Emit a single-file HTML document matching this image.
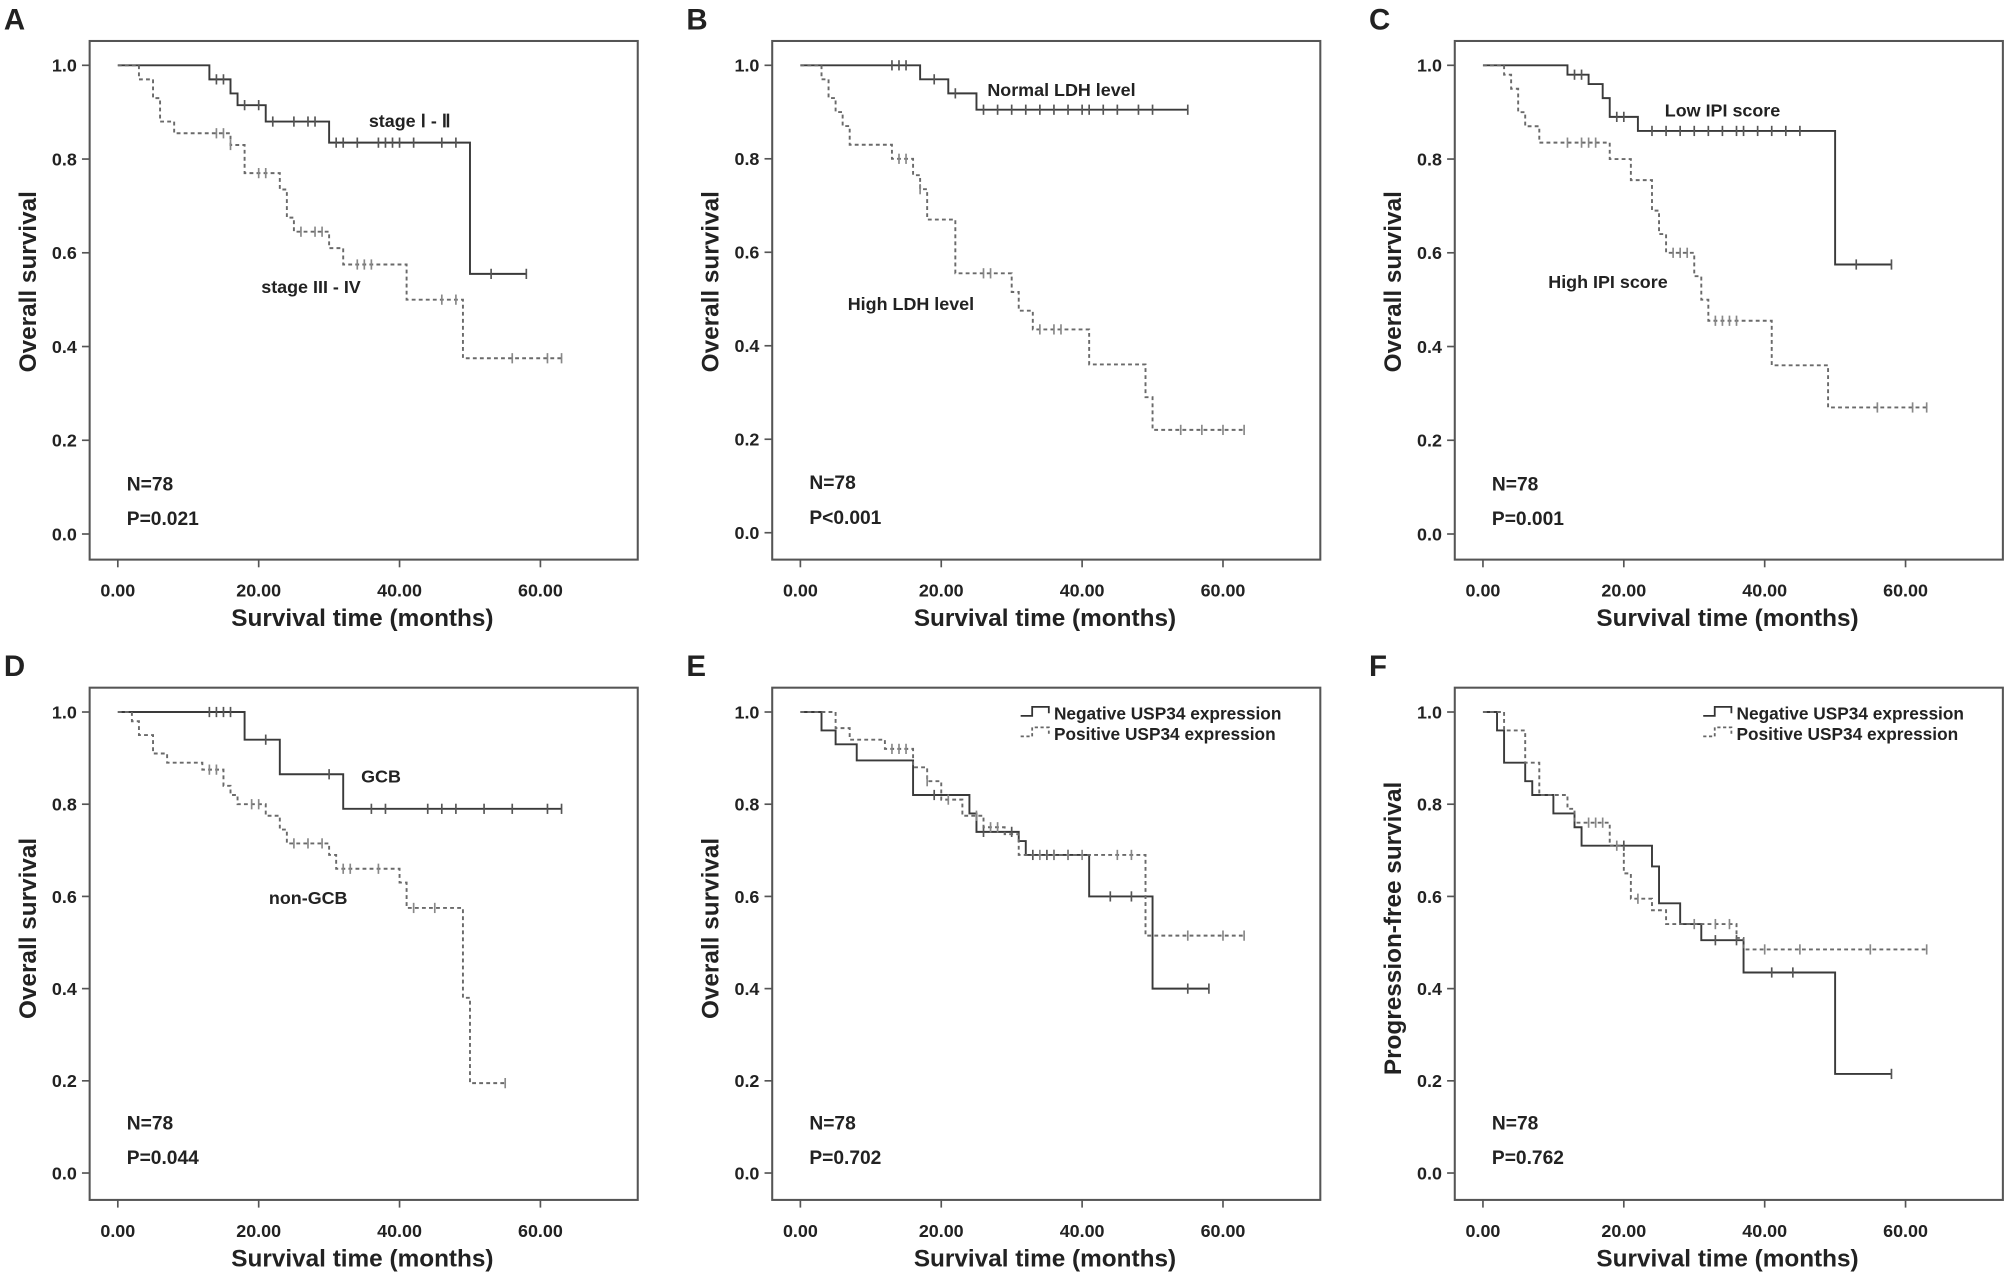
<!DOCTYPE html>
<html><head><meta charset="utf-8"><style>
html,body{margin:0;padding:0;background:#fff;}
svg{display:block;}
text{font-family:"Liberation Sans",Arial,sans-serif;font-weight:bold;fill:#222;}
</style></head><body>
<svg id="fig" width="2008" height="1287" viewBox="0 0 1568 1005" preserveAspectRatio="none" xmlns="http://www.w3.org/2000/svg"></svg>
<script>
// ---- data ----
const xTicks = [0, 20, 40, 60];
const xTickLabels = ["0.00", "20.00", "40.00", "60.00"];
const yTicks = [0, 0.2, 0.4, 0.6, 0.8, 1.0];
const yTickLabels = ["0.0", "0.2", "0.4", "0.6", "0.8", "1.0"];

const aSolidT = [0,13,16,17,21,30,50];
const aSolidS = [1,0.97,0.94,0.915,0.88,0.835,0.555];
const aSolidC = [14,15,18,20,22,25,27,28,31,32,34,37,38,39,40,42,46,48,53,58];
const aSolidEnd = 58;
const aDashT = [0,3,5,6,8,16,18,23,24,25,30,32,41,49];
const aDashS = [1,0.97,0.93,0.88,0.855,0.83,0.77,0.735,0.675,0.645,0.61,0.575,0.5,0.375];
const aDashC = [14,15,16,20,21,26,28,29,34,35,36,46,48,56,61,63];
const aDashEnd = 63;

const bSolidT = [0,17,21,25];
const bSolidS = [1,0.97,0.94,0.905];
const bSolidC = [13,14,15,19,22,26,28,30,32,34,36,38,40,41,43,45,48,50,55];
const bSolidEnd = 55;
const bDashT = [0,3,4,5,6,7,13,16,17,18,22,30,31,33,41,49,50];
const bDashS = [1,0.97,0.93,0.90,0.87,0.83,0.80,0.765,0.735,0.67,0.555,0.515,0.475,0.435,0.36,0.29,0.22];
const bDashC = [14,15,17,26,27,34,36,37,54,57,60,63];
const bDashEnd = 63;

const cSolidT = [0,12,15,17,18,22,50];
const cSolidS = [1,0.98,0.96,0.93,0.89,0.86,0.575];
const cSolidC = [13,14,19,20,24,26,28,30,32,34,36,37,39,41,43,45,53,58];
const cSolidEnd = 58;
const cDashT = [0,3,4,5,6,8,18,21,24,25,26,30,31,32,41,49];
const cDashS = [1,0.98,0.95,0.90,0.87,0.835,0.80,0.755,0.69,0.64,0.60,0.55,0.50,0.455,0.36,0.27];
const cDashC = [12,14,15,16,27,28,29,33,34,35,36,56,61,63];
const cDashEnd = 63;

const dSolidT = [0,18,23,32];
const dSolidS = [1,0.94,0.865,0.79];
const dSolidC = [13,14,15,16,21,30,36,38,44,46,48,52,56,61,63];
const dSolidEnd = 63;
const dDashT = [0,2,3,5,7,12,15,16,17,21,23,24,30,31,40,41,49,50];
const dDashS = [1,0.98,0.95,0.91,0.89,0.875,0.84,0.82,0.80,0.775,0.745,0.715,0.69,0.66,0.63,0.575,0.38,0.195];
const dDashC = [13,14,19,20,25,27,29,32,33,37,42,45,55];
const dDashEnd = 55;

const eSolidT = [0,3,5,8,16,24,25,31,32,41,50];
const eSolidS = [1,0.96,0.93,0.895,0.82,0.78,0.74,0.72,0.69,0.60,0.40];
const eSolidC = [19,26,30,33,35,36,38,44,47,55,58];
const eSolidEnd = 58;
const eDashT = [0,5,7,12,16,18,20,23,26,29,31,49];
const eDashS = [1,0.965,0.94,0.92,0.88,0.85,0.81,0.775,0.75,0.735,0.69,0.515];
const eDashC = [13,14,15,18,21,25,27,28,34,36,38,40,45,47,55,60,63];
const eDashEnd = 63;

const fSolidT = [0,2,3,6,7,10,13,14,24,25,28,31,37,50];
const fSolidS = [1,0.96,0.89,0.85,0.82,0.78,0.75,0.71,0.665,0.585,0.54,0.505,0.435,0.215];
const fSolidC = [20,33,36,41,44,58];
const fSolidEnd = 58;
const fDashT = [0,3,6,8,12,13,18,20,21,24,26,36,37];
const fDashS = [1,0.96,0.89,0.82,0.79,0.76,0.71,0.65,0.595,0.57,0.54,0.51,0.485];
const fDashC = [15,16,17,19,22,30,33,35,40,45,55,63];
const fDashEnd = 63;

// ---- drawing ----
const NS = "http://www.w3.org/2000/svg";
const svg = document.getElementById("fig");
function mk(tag, attrs, parent, txt){
  const e = document.createElementNS(NS, tag);
  for (const k in attrs) e.setAttribute(k, attrs[k]);
  if (txt !== undefined) e.textContent = txt;
  (parent || svg).appendChild(e);
  return e;
}
function survAt(T, S, t){ let s = S[0]; for (let i=0;i<T.length;i++){ if (T[i] <= t) s = S[i]; } return s; }

const panels = [
  {id:"a", L:"A", bx:42, by:32, h:405, y0off:385, yTitle:"Overall survival",
   series:[[aSolidT,aSolidS,aSolidC,aSolidEnd,false],[aDashT,aDashS,aDashC,aDashEnd,true]],
   labels:[["stage Ⅰ - Ⅱ",288,99],["stage III - IV",204,229]], p:"P=0.021"},
  {id:"b", L:"B", bx:575, by:32, h:405, y0off:384, yTitle:"Overall survival",
   series:[[bSolidT,bSolidS,bSolidC,bSolidEnd,false],[bDashT,bDashS,bDashC,bDashEnd,true]],
   labels:[["Normal LDH level",771,75],["High LDH level",662,242]], p:"P<0.001"},
  {id:"c", L:"C", bx:1108, by:32, h:405, y0off:385, yTitle:"Overall survival",
   series:[[cSolidT,cSolidS,cSolidC,cSolidEnd,false],[cDashT,cDashS,cDashC,cDashEnd,true]],
   labels:[["Low IPI score",1300,91],["High IPI score",1209,225]], p:"P=0.001"},
  {id:"d", L:"D", bx:42, by:537, h:400, y0off:379, yTitle:"Overall survival",
   series:[[dSolidT,dSolidS,dSolidC,dSolidEnd,false],[dDashT,dDashS,dDashC,dDashEnd,true]],
   labels:[["GCB",282,611],["non-GCB",210,706]], p:"P=0.044"},
  {id:"e", L:"E", bx:575, by:537, h:400, y0off:379, yTitle:"Overall survival",
   series:[[eSolidT,eSolidS,eSolidC,eSolidEnd,false],[eDashT,eDashS,eDashC,eDashEnd,true]],
   labels:[], legend:true, p:"P=0.702"},
  {id:"f", L:"F", bx:1108, by:537, h:400, y0off:379, yTitle:"Progression-free survival",
   series:[[fSolidT,fSolidS,fSolidC,fSolidEnd,false],[fDashT,fDashS,fDashC,fDashEnd,true]],
   labels:[], legend:true, p:"P=0.762"}
];

panels.forEach(P => {
  const g = mk("g", {});
  
  
  const x0 = P.bx + 50, xs = 5.5;
  const boxL = x0 - 22, W = 428;
  const yTop = P.by + 19, yBot = P.by + P.y0off;
  const X = t => x0 + t * xs;
  const Y = s => yBot - s * (yBot - yTop);

  const lab = mk("text", {x: P.bx - 39, y: P.by - 9, "font-size": 23, fill:"#111"}, g, P.L);
  
  

  const box = mk("rect", {x:boxL, y:P.by, width:W, height:P.h, fill:"none", stroke:"#555", "stroke-width":1.6}, g);
  
  

  yTicks.forEach((v,i) => {
    const t = mk("line", {x1:boxL-6, x2:boxL, y1:Y(v), y2:Y(v), stroke:"#555", "stroke-width":1.3}, g);
    
    
    const tl = mk("text", {x:x0-32, y:Y(v)+5, "text-anchor":"end", "font-size":14, fill:"#333"}, g, yTickLabels[i]);
    
    
  });
  xTicks.forEach((v,i) => {
    const t = mk("line", {x1:X(v), x2:X(v), y1:P.by+P.h, y2:P.by+P.h+6, stroke:"#555", "stroke-width":1.3}, g);
    
    
    const tl = mk("text", {x:X(v), y:P.by+P.h+29, "text-anchor":"middle", "font-size":14, fill:"#333"}, g, xTickLabels[i]);
    
    
  });
  const xt = mk("text", {x:x0+191, y:P.by+P.h+52, "text-anchor":"middle", "font-size":19, fill:"#222"}, g, "Survival time (months)");
  
  
  const cy = P.by + 188;
  const tx = x0 - 64;
  const yt = mk("text", {x:tx, y:cy, "text-anchor":"middle", "font-size":19, fill:"#222", transform:`rotate(-90 ${tx} ${cy})`}, g, P.yTitle);
  
  

  const n = mk("text", {x:x0+7, y:yBot-34, "font-size":15, fill:"#222", "font-weight":"normal"}, g, "N=78");
  
  
  const pv = mk("text", {x:x0+7, y:yBot-7, "font-size":15, fill:"#222", "font-weight":"normal"}, g, P.p);
  
  

  P.series.forEach(([T,S,C,end,dashed]) => {
    let d = `M${X(T[0])},${Y(S[0])}`;
    for (let i=1;i<T.length;i++){ d += `H${X(T[i])}V${Y(S[i])}`; }
    d += `H${X(end)}`;
    const col = dashed ? "#6a6a6a" : "#3a3a3a";
    const path = mk("path", {d, fill:"none", stroke:col, "stroke-width":1.5, "stroke-dasharray": dashed ? "3,2.5" : "none"}, g);
    
    
    C.forEach(c => {
      const yy = Y(survAt(T,S,c));
      const m = mk("line", {x1:X(c), x2:X(c), y1:yy-4, y2:yy+4, stroke: dashed ? "#888" : "#555", "stroke-width":1.3}, g);
      
      
    });
  });

  P.labels.forEach(([t,x,y]) => {
    const l = mk("text", {x, y, "font-size":14, fill:"#222"}, g, t);
    
    
  });

  if (P.legend){
    const lx = P.bx + 222, ly = P.by + 20;
    const s1 = mk("path", {d:`M${lx},${ly+2}H${lx+9}V${ly-5}H${lx+22}V${ly}`, fill:"none", stroke:"#333", "stroke-width":1.4}, g);
    
    
    const t1 = mk("text", {x:lx+26, y:ly+5, "font-size":13.5, fill:"#222"}, g, "Negative USP34 expression");
    
    
    const s2 = mk("path", {d:`M${lx},${ly+18}H${lx+9}V${ly+11}H${lx+22}V${ly+16}`, fill:"none", stroke:"#666", "stroke-width":1.4, "stroke-dasharray":"2.5,2"}, g);
    
    
    const t2 = mk("text", {x:lx+26, y:ly+21, "font-size":13.5, fill:"#222"}, g, "Positive USP34 expression");
    
    
  }
});
</script>
</body></html>
